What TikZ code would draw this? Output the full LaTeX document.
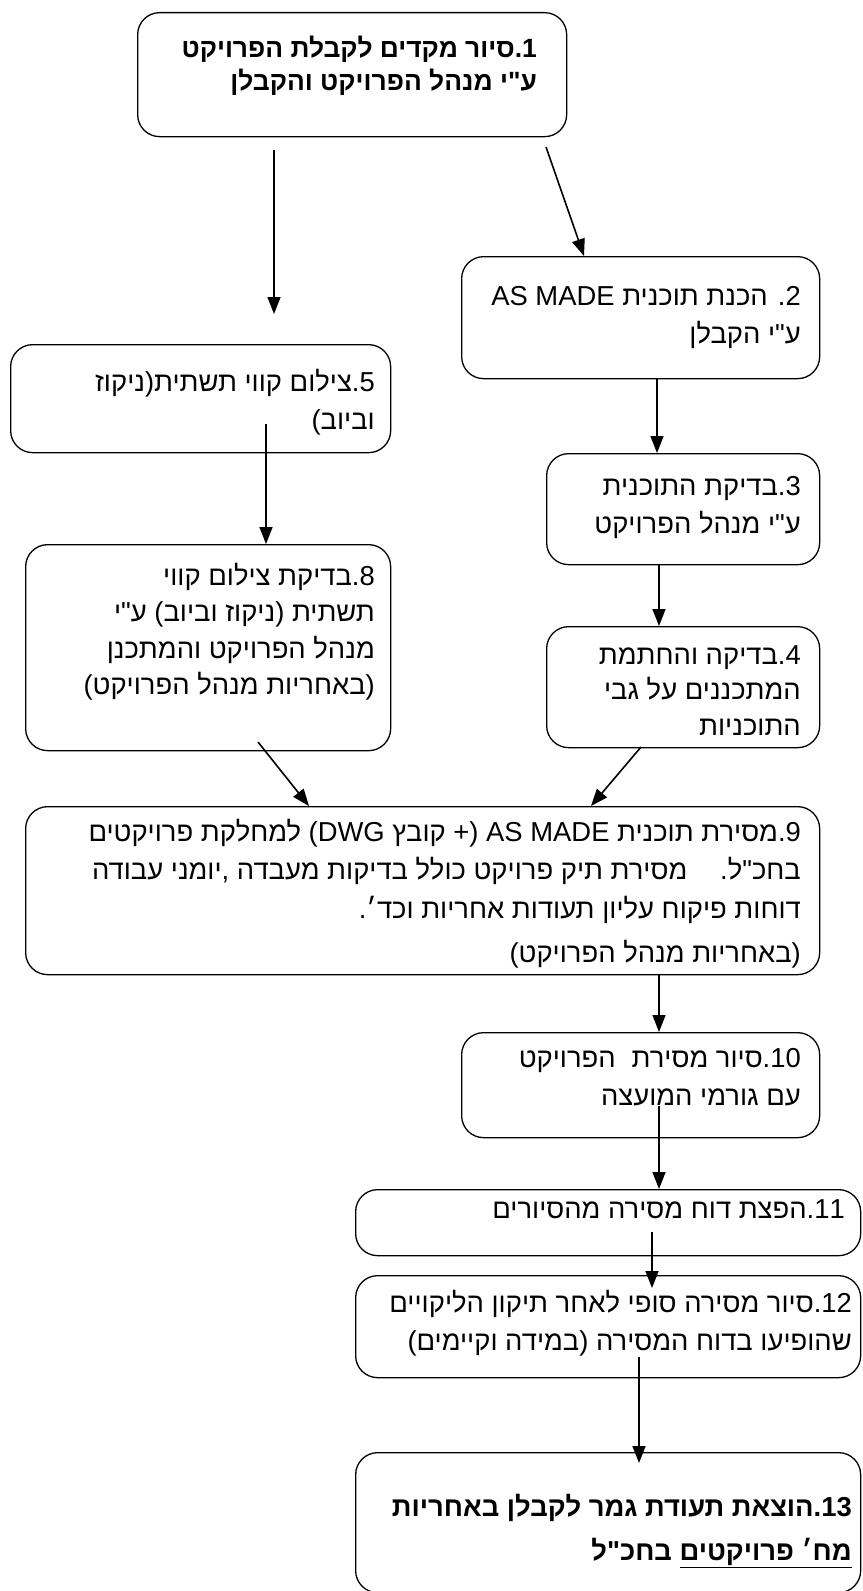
\documentclass[tikz,border=0pt]{standalone}
\usepackage{fontspec}
\setmainfont{Liberation Sans}
\newfontfamily\heb[Script=Hebrew]{Liberation Sans}
\TeXXeTstate=1
\usetikzlibrary{arrows.meta}
\tikzset{
  box/.style={draw, line width=1.3bp, rounded corners=22bp, inner sep=0pt, anchor=north west},
  txt/.style={anchor=north east, inner sep=0pt, align=right, font=\heb\fontsize{27.5}{38}\selectfont},
  wtxt/.style={txt, font=\heb\fontsize{27.5}{38.5}\selectfont},
  btxt/.style={txt, font=\heb\bfseries\fontsize{26.5}{33.5}\selectfont},
  bbtxt/.style={txt, font=\heb\bfseries\fontsize{27.5}{44.5}\selectfont},
  arr/.style={line width=1.6bp, -{Triangle[width=13bp,length=17bp]}},
}
\begin{document}
\begin{tikzpicture}[x=1bp,y=-1bp]
\useasboundingbox (0,0) rectangle (862,1591);
% boxes
\node[box, minimum width=429bp, minimum height=124bp] (b1) at (137,12) {};
\node[box, minimum width=358bp, minimum height=122bp] (b2) at (461,256) {};
\node[box, minimum width=380bp, minimum height=108bp] (b5) at (10,344) {};
\node[box, minimum width=273bp, minimum height=111bp] (b3) at (546,453) {};
\node[box, minimum width=365bp, minimum height=206bp] (b8) at (25,544) {};
\node[box, minimum width=273bp, minimum height=121bp] (b4) at (546,626) {};
\node[box, minimum width=794bp, minimum height=168bp] (b9) at (25,806) {};
\node[box, minimum width=358bp, minimum height=105bp] (b10) at (461,1032) {};
\node[box, minimum width=505bp, minimum height=66bp] (b11) at (355,1189) {};
\node[box, minimum width=505bp, minimum height=102bp] (b12) at (355,1275) {};
\node[box, minimum width=505bp, minimum height=140bp] (b13) at (355,1452) {};
% texts
\node[btxt] (t1) at (537,35.5) {\beginR 1.סיור מקדים לקבלת הפרויקט\endR\\ \beginR ע"י מנהל הפרויקט והקבלן\endR};
\node[txt] (t2) at (801,286) {\beginR 2. הכנת תוכנית \beginL AS MADE\endL\endR\\ \beginR ע"י הקבלן\endR};
\node[txt] (t5) at (375,369) {\beginR 5.צילום קווי תשתית(ניקוז\endR\\ \beginR וביוב)\endR};
\node[txt] (t3) at (801,476) {\beginR 3.בדיקת התוכנית\endR\\ \beginR ע"י מנהל הפרויקט\endR};
\node[txt, font=\heb\fontsize{27.5}{36.5}\selectfont] (t8) at (375,563) {\beginR 8.בדיקת צילום קווי\endR\\ \beginR תשתית (ניקוז וביוב) ע"י\endR\\ \beginR מנהל הפרויקט והמתכנן\endR\\ \beginR (באחריות מנהל הפרויקט)\endR};
\node[txt, font=\heb\fontsize{27.5}{36}\selectfont] (t4) at (801,645) {\beginR 4.בדיקה והחתמת\endR\\ \beginR המתכננים על גבי\endR\\ \beginR התוכניות\endR};
\node[wtxt] (t9) at (801,819) {\beginR 9.מסירת תוכנית \beginL AS MADE\endL{} (+ קובץ \beginL DWG\endL) למחלקת פרויקטים\endR\\ \beginR בחכ"ל.\hspace{1.2em}מסירת תיק פרויקט כולל בדיקות מעבדה ,יומני עבודה\endR\\ \beginR דוחות פיקוח עליון תעודות אחריות וכד׳.\endR\\[6bp] \beginR (באחריות מנהל הפרויקט)\endR};
\node[txt] (t10) at (801,1048) {\beginR 10.סיור מסירת\hspace{0.3em} הפרויקט\endR\\ \beginR עם גורמי המועצה\endR};
\node[txt] (t11) at (845,1199) {\beginR 11.הפצת דוח מסירה מהסיורים\endR};
\node[txt] (t12) at (852,1290) {\beginR 12.סיור מסירה סופי לאחר תיקון הליקויים\endR\\ \beginR שהופיעו בדוח המסירה (במידה וקיימים)\endR};
\node[bbtxt] (t13) at (852,1494) {\beginR 13.הוצאת תעודת גמר לקבלן באחריות\endR\\ \beginR $\underline{\hbox{\beginR מח׳ פרויקטים\endR}}$ בחכ"ל\endR};
% connector points
\coordinate (a1s) at (274,150);
\coordinate (a1e) at (274,314);
\coordinate (a2s) at (546,147);
\coordinate (a2e) at (584,256);
\coordinate (a4s) at (266,424);
\coordinate (a6s) at (258,742);
\coordinate (a6e) at (309,806);
\coordinate (a7s) at (641,747);
\coordinate (a7e) at (591,806);
\coordinate (a9s) at (659,1106);
\coordinate (a10s) at (652,1232);
\coordinate (a10e) at (652,1288);
\coordinate (a11s) at (639,1357);
\coordinate (a11e) at (639,1463);
% connectors
\draw[arr] (a1s) -- (a1e);
\draw[arr] (a2s) -- (a2e |- b2.north);
\draw[arr] (b2.south -| 657,0) -- (b3.north -| 657,0);
\draw[arr] (a4s) -- (a4s |- b8.north);
\draw[arr] (b3.south -| 659,0) -- (b4.north -| 659,0);
\draw[arr] (a6s) -- (a6e |- b9.north);
\draw[arr] (a7s) -- (a7e |- b9.north);
\draw[arr] (b9.south -| 659,0) -- (b10.north -| 659,0);
\draw[arr] (a9s) -- (a9s |- b11.north);
\draw[arr] (a10s) -- (a10e);
\draw[arr] (a11s) -- (a11e);
\end{tikzpicture}
\end{document}
